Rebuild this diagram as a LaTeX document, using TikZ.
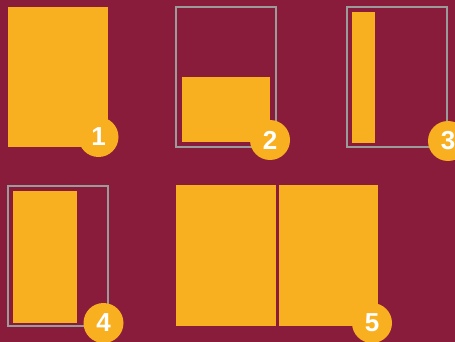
\documentclass[tikz,border=0pt]{standalone}
\usepackage{fontspec}
\setmainfont{Liberation Sans}
\definecolor{bgc}{HTML}{8A1C3B}
\definecolor{ylw}{HTML}{F9B020}
\definecolor{frm}{HTML}{9B9B9B}
\begin{document}
\begin{tikzpicture}[x=1pt,y=-1pt,
  page/.style={fill=ylw},
  frame/.style={draw=frm,line width=2.5pt},
  badge/.style={circle,fill=ylw,minimum size=40pt,inner sep=0pt,text=white,font=\fontsize{26}{26}\selectfont\bfseries}]
\fill[bgc] (0,0) rectangle (455,342);
\useasboundingbox (0,0) rectangle (455,342);
% 1
\fill[page] (8,7) rectangle (108,147);
\node[badge] (n1) at (98.5,137) {1};
% 2
\draw[frame] (176,7) rectangle (276,147);
\fill[page] (182,77) rectangle (270,142);
\node[badge] (n2) at (270,140) {2};
% 3
\draw[frame] (347,7) rectangle (447,147);
\fill[page] (352,12) rectangle (375,143.5);
\node[badge] (n3) at (448,141) {3};
% 4
\draw[frame] (8,186) rectangle (108,326);
\fill[page] (12.7,191) rectangle (77.3,322.5);
\node[badge] (n4) at (103.5,323) {4};
% 5
\fill[page] (176,185) rectangle (276,325.5);
\fill[page] (278.7,185) rectangle (378.3,325.5);
\node[badge] (n5) at (372,323) {5};
\end{tikzpicture}
\end{document}
